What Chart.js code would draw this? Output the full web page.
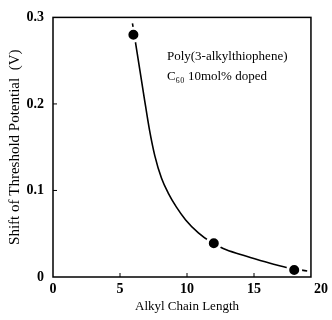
<!DOCTYPE html>
<html>
<head>
<meta charset="utf-8">
<script src="https://cdn.jsdelivr.net/npm/chart.js@4/dist/chart.umd.min.js"></script>
<style>
  html, body { margin: 0; padding: 0; background: #fff; }
  #wrap { width: 332px; height: 320px; }
</style>
</head>
<body>
<div id="wrap"><canvas id="chart" width="332" height="320"></canvas></div>
<script>
// measured points
const pointX = [6, 12, 18];
const pointY = [0.28, 0.039, 0.008];

// fitted curve
const curveX = [5.93, 6.27, 6.8, 7.2, 7.6, 8.1, 8.6, 9.2, 9.9, 10.85, 11.73, 12.7, 14.0, 15.05, 16.4, 17.7, 18.97];
const curveY = [0.293, 0.26, 0.208, 0.17, 0.14, 0.114, 0.097, 0.081, 0.066, 0.051, 0.041, 0.033, 0.026, 0.021, 0.015, 0.010, 0.007];

const xTicks = [0, 5, 10, 15, 20];
const yTicks = [0, 0.1, 0.2, 0.3];

const noteLines = ['Poly(3-alkylthiophene)', 'C\u2086\u2080 10mol% doped'];

const serif = '"Liberation Serif", "DejaVu Serif", serif';

// frame + inward ticks + note text
const framePlugin = {
    id: 'frame',
    afterDraw(chart) {
        const { ctx, chartArea, scales } = chart;
        const xs = scales.x, ys = scales.y;
        const right = xs.getPixelForValue(19.25);
        ctx.save();
        ctx.strokeStyle = '#000';
        ctx.lineWidth = 1.5;
        ctx.strokeRect(chartArea.left, chartArea.top, right - chartArea.left, chartArea.bottom - chartArea.top);
        ctx.lineWidth = 1;
        xTicks.slice(1, -1).forEach(v => {
            const px = xs.getPixelForValue(v);
            ctx.beginPath();
            ctx.moveTo(px, chartArea.bottom);
            ctx.lineTo(px, chartArea.bottom - 4);
            ctx.stroke();
        });
        yTicks.slice(1, -1).forEach(v => {
            const py = ys.getPixelForValue(v);
            ctx.beginPath();
            ctx.moveTo(chartArea.left, py);
            ctx.lineTo(chartArea.left + 4, py);
            ctx.stroke();
        });
        ctx.fillStyle = '#000';
        ctx.font = '13px ' + serif;
        ctx.textBaseline = 'middle';
        const tx = xs.getPixelForValue(8.5);
        const ty = ys.getPixelForValue(0.255);
        noteLines.forEach((t, i) => ctx.fillText(t, tx, ty + i * 20));
        ctx.restore();
    }
};

new Chart(document.getElementById('chart'), {
    type: 'scatter',
    data: {
        datasets: [
            {
                data: pointX.map((x, i) => ({ x, y: pointY[i] })),
                backgroundColor: '#000',
                borderColor: '#fff',
                borderWidth: 3,
                pointRadius: 6.5,
                order: 0
            },
            {
                type: 'line',
                data: curveX.map((x, i) => ({ x, y: curveY[i] })),
                borderColor: '#000',
                borderWidth: 1.6,
                pointRadius: 0,
                fill: false,
                cubicInterpolationMode: 'monotone',
                order: 1
            }
        ]
    },
    options: {
        responsive: false,
        animation: false,
        layout: { padding: { top: 16, right: 0, left: 6, bottom: 6 } },
        plugins: { legend: { display: false }, tooltip: { enabled: false } },
        scales: {
            x: {
                type: 'linear',
                min: 0, max: 20,
                grid: { display: false, drawTicks: false },
                border: { display: false },
                ticks: {
                    stepSize: 5, padding: 4, color: '#000',
                    font: { family: serif, size: 14, weight: 'bold' }
                },
                title: {
                    display: true, text: 'Alkyl Chain Length', color: '#000',
                    padding: { top: 0, bottom: 0 },
                    font: { family: serif, size: 13 }
                },
                afterFit(scale) { scale.height = 37; }
            },
            y: {
                min: 0, max: 0.3,
                grid: { display: false, drawTicks: false },
                border: { display: false },
                ticks: {
                    stepSize: 0.1, padding: 9, color: '#000',
                    font: { family: serif, size: 14, weight: 'bold' }
                },
                title: {
                    display: true, text: 'Shift of Threshold Potential  (V)', color: '#000',
                    padding: { top: 0, bottom: 2 },
                    font: { family: serif, size: 15 }
                },
                afterFit(scale) { scale.width = 47; }
            }
        }
    },
    plugins: [framePlugin]
});
</script>
</body>
</html>
